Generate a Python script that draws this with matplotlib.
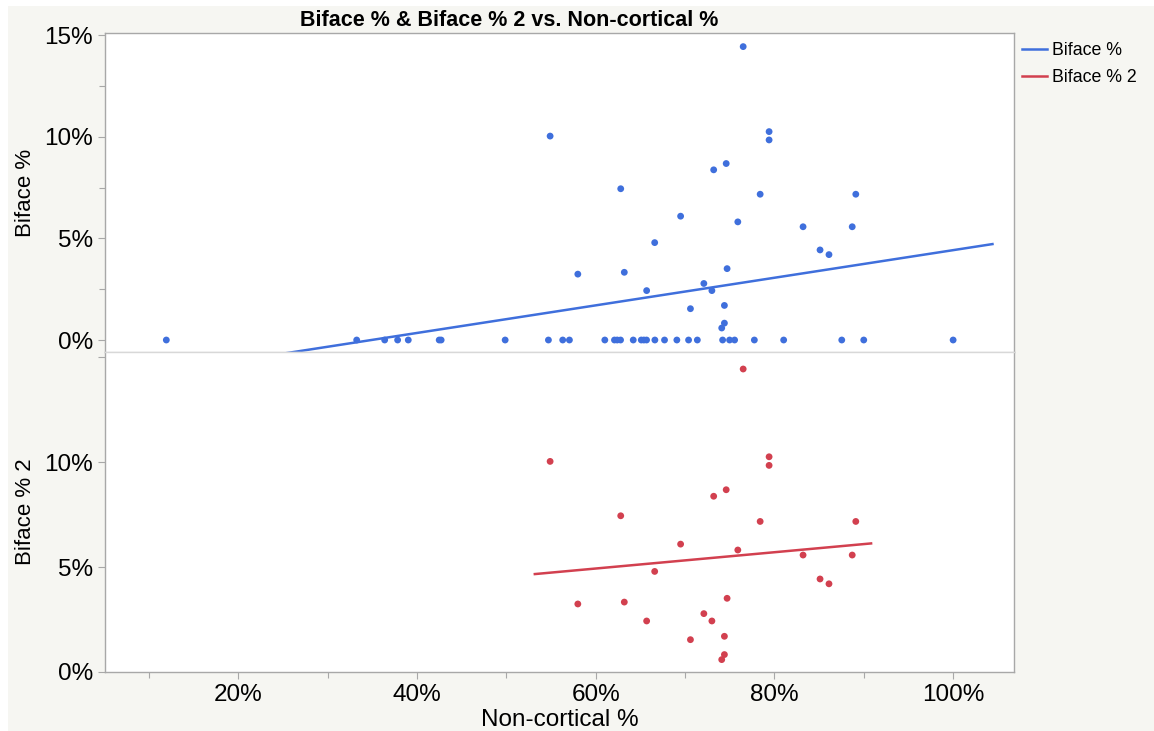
import numpy as np
import matplotlib.pyplot as plt
from matplotlib.lines import Line2D
from matplotlib.patches import Rectangle
from matplotlib.ticker import FuncFormatter, MultipleLocator

plt.rcParams['font.family'] = ['Liberation Sans', 'DejaVu Sans']

# Non-cortical % and Biface % per assemblage
noncortical = [
    11.96, 33.26, 36.39, 37.84, 39.03, 42.49, 42.71, 49.87, 54.71, 56.31, 57.06,
    61.02, 62.10, 62.41, 62.78, 64.20, 65.10, 65.39, 65.69, 66.62, 67.70, 69.08,
    70.39, 71.37, 74.20, 74.98, 75.54, 77.75, 81.03, 87.53, 89.99, 99.99,
    76.5, 54.9, 79.4, 79.4, 73.2, 74.6, 62.8, 78.4, 89.1, 69.5, 75.9, 83.2, 88.7,
    66.6, 85.1, 86.1, 74.7, 63.2, 58.0, 72.1, 65.7, 73.0, 70.6, 74.4, 74.4, 74.1,
]
biface = [0.0] * 32 + [
    14.43, 10.03, 10.25, 9.84, 8.37, 8.68, 7.44, 7.17, 7.17, 6.09, 5.81, 5.57, 5.57,
    4.79, 4.43, 4.20, 3.51, 3.33, 3.24, 2.78, 2.43, 2.43, 1.54, 1.70, 0.83, 0.59,
]

# linear fits (slope, intercept) for Biface % and Biface % 2
fit_biface = (0.0679, -2.37)
fit_biface2 = (0.0388, 2.60)

blue = '#3f6fdc'
red = '#d2404f'
frame_col = '#a8a8a8'
bg_col = '#f6f6f2'

x_all = np.array(noncortical)
y_all = np.array(biface)
nz = y_all > 0
x_nz, y_nz = x_all[nz], y_all[nz]


def fit_line(x, coef):
    slope, icpt = coef
    pad = 0.05 * (x.max() - x.min())
    xs = np.array([x.min() - pad, x.max() + pad])
    return xs, icpt + slope * xs


fig = plt.figure(figsize=(11.54, 7.31), dpi=100, facecolor='white')
fig.patches.append(Rectangle((8 / 1154, 0), 1, 1 - 6 / 731, transform=fig.transFigure,
                             facecolor=bg_col, edgecolor='none', zorder=-10))

left, width = 105 / 1154, (1014 - 105) / 1154
ax1 = fig.add_axes([left, 1 - 352 / 731, width, (352 - 33) / 731])
ax2 = fig.add_axes([left, 1 - 672 / 731, width, (672 - 352) / 731], sharex=ax1)

pct = FuncFormatter(lambda v, p: '%d%%' % round(v))

for ax in (ax1, ax2):
    ax.set_facecolor('white')
    for s in ax.spines.values():
        s.set_color(frame_col)
        s.set_linewidth(1.0)
    ax.tick_params(axis='both', colors=frame_col, labelcolor='black', labelsize=17.5,
                   length=5, width=0.8, direction='out')
    ax.tick_params(which='minor', colors=frame_col, length=4, width=0.8)
    ax.yaxis.set_major_formatter(pct)

ax1.spines['bottom'].set_color('#d8d8d8')
ax2.spines['top'].set_color('#d8d8d8')

# top panel: all points
ax1.scatter(x_all, y_all, s=24, color=blue, edgecolors='none', zorder=3)
xs, ys = fit_line(x_all, fit_biface)
ax1.plot(xs, ys, color=blue, lw=1.8, zorder=2)
ax1.set_ylim(-0.59, 15.1)
ax1.yaxis.set_major_locator(MultipleLocator(5))
ax1.yaxis.set_minor_locator(MultipleLocator(2.5))
ax1.tick_params(axis='x', which='both', bottom=False, labelbottom=False)
ax1.set_ylabel('Biface %', fontsize=16, labelpad=6)

# bottom panel: non-zero points only
ax2.scatter(x_nz, y_nz, s=24, color=red, edgecolors='none', zorder=3)
xs, ys = fit_line(x_nz, fit_biface2)
ax2.plot(xs, ys, color=red, lw=1.8, zorder=2)
ax2.set_ylim(0, 15.24)
ax2.set_yticks([0, 5, 10, 15])
ax2.set_yticklabels(['0%', '5%', '10%', ''])
ax2.set_ylabel('Biface % 2', fontsize=16, labelpad=6)

ax2.set_xlim(5.1, 106.8)
ax2.xaxis.set_major_locator(MultipleLocator(20))
ax2.xaxis.set_minor_locator(MultipleLocator(10))
ax2.xaxis.set_major_formatter(pct)
ax2.set_xlabel('Non-cortical %', fontsize=17.5, labelpad=2)

fig.text(509 / 1154, 1 - 20 / 731, 'Biface % & Biface % 2 vs. Non-cortical %',
         ha='center', va='center', fontsize=15.5, fontweight='bold')

handles = [Line2D([], [], color=blue, lw=1.8), Line2D([], [], color=red, lw=1.8)]
fig.legend(handles, ['Biface %', 'Biface % 2'], loc='upper left',
           bbox_to_anchor=(1006 / 1154, 1 - 26 / 731), frameon=False,
           fontsize=12.8, handlelength=1.4, handletextpad=0.3, labelspacing=0.55)

fig.savefig('out.png', dpi=100, facecolor=fig.get_facecolor())
